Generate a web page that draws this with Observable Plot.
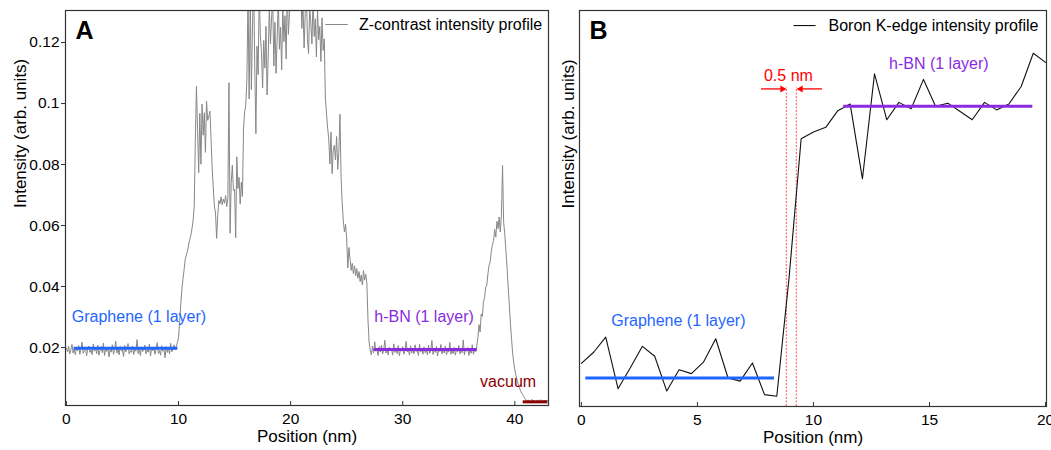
<!DOCTYPE html>
<html><head><meta charset="utf-8">
<script src="https://cdn.jsdelivr.net/npm/d3@7"></script>
<script src="https://cdn.jsdelivr.net/npm/@observablehq/plot@0.6"></script>
<style>
body{margin:0;background:#fff;font-family:"Liberation Sans",Arial,sans-serif;}
#wrap{position:relative;width:1051px;height:450px;overflow:hidden;}
#a{position:absolute;left:0;top:0;}
#b{position:absolute;left:555px;top:0;}
svg{overflow:visible}
</style></head><body><div id="wrap"><div id="a"></div><div id="b"></div></div>
<script>
// ---------- Panel A: Z-contrast intensity profile ----------
const positionStartA = 0;     // nm
const positionStepA = 0.1;    // nm between samples
const zIntensityA = [
.0198,.0186,.0204,.0179,.0193,.0210,.0182,.0196,.0176,.0201,
.0189,.0206,.0178,.0194,.0218,.0181,.0190,.0202,.0173,.0197,
.0205,.0184,.0192,.0177,.0212,.0188,.0199,.0180,.0208,.0175,
.0191,.0203,.0183,.0215,.0174,.0196,.0187,.0200,.0169,.0193,
.0185,.0209,.0178,.0195,.0221,.0182,.0198,.0176,.0204,.0189,
.0192,.0171,.0207,.0186,.0199,.0213,.0179,.0190,.0184,.0205,
.0177,.0194,.0188,.0226,.0180,.0196,.0174,.0202,.0187,.0191,
.0208,.0179,.0193,.0185,.0211,.0172,.0197,.0189,.0200,.0178,
.0195,.0216,.0181,.0190,.0175,.0206,.0188,.0194,.0167,.0203,
.0184,.0198,.0179,.0214,.0186,.0192,.0209,.0193,.0204,.0217,
.0232,.0285,.0340,.0391,.0425,.0456,.0490,.0503,.0517,.0536,
.0554,.0568,.0589,.0617,.0660,.0880,.1056,.0912,.0773,.0968,
.0801,.0998,.0896,.0970,.0840,.1008,.0945,.0958,.0975,.0886,
.0790,.0723,.0664,.0641,.0558,.0636,.0682,.0671,.0694,.0668,
.0687,.0673,.0698,.0662,.0689,.1068,.0575,.0740,.0798,.0715,
.0718,.0560,.0825,.0721,.0758,.0670,.0742,.0695,.0920,.0973,
.0995,.1080,.1360,.1015,.1330,.1046,.1254,.1405,.1120,.0901,
.1188,.1095,.1362,.1224,.1170,.1051,.1207,.1116,.1253,.1028,
.1149,.1318,.1195,.1280,.1352,.1123,.1266,.1099,.1214,.1346,
.1178,.1250,.1110,.1325,.1203,.1288,.1146,.1380,.1227,.1295,
.1365,.1420,.1398,.1452,.1371,.1483,.1410,.1356,.1439,.1392,
.1246,.1330,.1182,.1295,.1378,.1210,.1164,.1312,.1267,.1195,
.1345,.1220,.1278,.1153,.1306,.1209,.1253,.1138,.1281,.1174,
.1212,.1018,.0966,.0920,.0884,.0802,.0906,.0770,.0848,.0863,
.0815,.0892,.0784,.0840,.0965,.0758,.0672,.0615,.0579,.0604,
.0556,.0461,.0528,.0490,.0453,.0476,.0442,.0468,.0435,.0459,
.0427,.0449,.0416,.0438,.0405,.0452,.0421,.0440,.0410,.0290,
.0218,.0192,.0176,.0205,.0183,.0219,.0188,.0196,.0174,.0203,
.0185,.0208,.0179,.0191,.0224,.0182,.0197,.0176,.0201,.0189,
.0196,.0175,.0212,.0184,.0199,.0180,.0207,.0173,.0194,.0188,
.0203,.0178,.0190,.0220,.0186,.0193,.0175,.0206,.0182,.0198,
.0179,.0209,.0187,.0192,.0174,.0211,.0185,.0197,.0178,.0202,
.0183,.0195,.0176,.0208,.0181,.0190,.0223,.0177,.0196,.0184,
.0204,.0172,.0193,.0187,.0210,.0179,.0198,.0182,.0205,.0176,
.0191,.0185,.0217,.0178,.0194,.0180,.0201,.0175,.0197,.0186,
.0207,.0179,.0192,.0183,.0225,.0176,.0195,.0188,.0200,.0174,
.0196,.0181,.0209,.0178,.0193,.0186,.0204,.0232,.0275,.0251,
.0310,.0302,.0351,.0364,.0398,.0405,.0443,.0469,.0482,.0516,
.0538,.0551,.0587,.0562,.0614,.0590,.0628,.0579,.0635,.0797,
.0610,.0573,.0518,.0465,.0402,.0344,.0281,.0230,.0182,.0150,
.0126,.0108,.0092,.0080,.0069,.0059,.0051,.0046,.0039,.0033,
.0029,.0025,.0028,.0022,.0026,.0030,.0024,.0027,.0021,.0025,
.0028,.0023,.0026,.0029,.0022,.0027,.0024,.0028,.0023,.0026,
.0025
];
const xDomainA = [-0.08, 43.0];
const yDomainA = [0.001, 0.1305];
const xTicksA = [0, 10, 20, 30, 40];
const yTicksA = [0.02, 0.04, 0.06, 0.08, 0.1, 0.12];
const yTickLabelsA = ["0.02", "0.04", "0.06", "0.08", "0.1", "0.12"];
const levelNamesA = ["Graphene (1 layer)", "h-BN (1 layer)", "vacuum"];
const levelStartA = [0.64, 27.4, 40.7];
const levelEndA = [9.9, 36.6, 42.9];
const levelValueA = [0.0198, 0.0194, 0.0022];
const levelLabelXA = [6.47, 31.9, 39.4];
const levelLabelYA = [0.0299, 0.0299, 0.0089];
const legendA = {text: "Z-contrast intensity profile", x1: 23.1, x2: 25.1, y: 0.1259, textX: 26.1};

// ---------- Panel B: Boron K-edge intensity profile ----------
const positionB = [0, 0.53, 1.05, 1.58, 2.11, 2.63, 3.16, 3.68, 4.21, 4.74, 5.26, 5.79, 6.32, 6.84, 7.37, 7.89, 8.42, 8.95, 9.47, 10.0,
  10.53, 11.05, 11.58, 12.11, 12.63, 13.16, 13.68, 14.21, 14.74, 15.26, 15.79, 16.32, 16.84, 17.37, 17.89, 18.42, 18.95, 19.47, 20.0];
const boronIntensityB = [10.9, 13.7, 17.5, 4.5, 9.8, 15.2, 12.7, 3.9, 9.3, 8.3, 11.2, 17.1, 7.2, 6.4, 11.0, 3.0, 2.6, 32.6, 67.6, 69.3,
  70.5, 74.7, 76.4, 57.5, 84.0, 72.4, 76.8, 75.2, 82.6, 75.8, 76.6, 74.5, 72.4, 76.8, 74.9, 76.4, 80.8, 89.2, 86.9];
const xDomainB = [-0.08, 20.04];
const yDomainB = [0, 100];
const xTicksB = [0, 5, 10, 15, 20];
const levelNamesB = ["Graphene (1 layer)", "h-BN (1 layer)"];
const levelStartB = [0.17, 11.28];
const levelEndB = [8.3, 19.43];
const levelValueB = [7.2, 75.8];
const levelLabelXB = [4.18, 15.4];
const levelLabelYB = [21.5, 86.5];
const edgeMarkersB = [8.83, 9.26];
const edgeMarkerTopB = 80.6;
const widthLabelB = {text: "0.5 nm", x: 8.92, y: 83.6, arrowY: 80.2, leftFrom: 7.74, leftTo: 8.79, rightFrom: 10.37, rightTo: 9.32};
const legendB = {text: "Boron K-edge intensity profile", x1: 9.14, x2: 10.09, y: 96.2, textX: 10.65};

// ---------- styles ----------
const levelColorsA = ["#1f66ff", "#8a2be2", "#8b0000"];
const levelColorsB = ["#1f66ff", "#8a2be2"];
const font = "Liberation Sans, Arial, Helvetica, sans-serif";

const profileA = zIntensityA.map((v, i) => ({x: positionStartA + i * positionStepA, y: v}));
const levelsA = levelNamesA.map((n, i) => ({name: n, x1: levelStartA[i], x2: levelEndA[i], y: levelValueA[i], lx: levelLabelXA[i], ly: levelLabelYA[i], c: levelColorsA[i]}));
const profileB = positionB.map((x, i) => ({x, y: boronIntensityB[i]}));
const levelsB = levelNamesB.map((n, i) => ({name: n, x1: levelStartB[i], x2: levelEndB[i], y: levelValueB[i], lx: levelLabelXB[i], ly: levelLabelYB[i], c: levelColorsB[i]}));
const arrowTipsB = [
  {x: widthLabelB.leftTo, y: widthLabelB.arrowY, rot: 90, dx: -3},
  {x: widthLabelB.rightTo, y: widthLabelB.arrowY, rot: -90, dx: 3}
];

const plotA = Plot.plot({
  width: 555, height: 450,
  marginLeft: 65, marginRight: 7, marginTop: 10, marginBottom: 45,
  style: {fontFamily: font, fontSize: "15px", color: "#000", background: "#fff", overflow: "visible"},
  x: {domain: xDomainA},
  y: {domain: yDomainA},
  color: {type: "identity"},
  marks: [
    Plot.line(profileA, {x: "x", y: "y", stroke: "#878787", strokeWidth: 1, clip: true}),
    Plot.link(levelsA, {x1: "x1", x2: "x2", y1: "y", y2: "y", stroke: "c", strokeWidth: 3}),
    Plot.text(levelsA, {x: "lx", y: "ly", text: "name", fill: "c", fontSize: 16}),
    Plot.link([legendA], {x1: "x1", x2: "x2", y1: "y", y2: "y", stroke: "#878787", strokeWidth: 1}),
    Plot.text([legendA], {x: "textX", y: "y", text: "text", textAnchor: "start", fontSize: 16, fill: "#000"}),
    Plot.text(["A"], {text: d => d, frameAnchor: "top-left", textAnchor: "start", lineAnchor: "top", dx: 10, dy: 11, fontSize: 25, fontWeight: "bold", fill: "#000"}),
    Plot.axisX(xTicksA, {tickSize: -4, tickPadding: 11, label: null, fontSize: 15.5, stroke: "#333"}),
    Plot.axisY(yTicksA, {tickSize: 4, tickPadding: 2, label: null, tickFormat: (d, i) => yTickLabelsA[i], fontSize: 15.5, stroke: "#333"}),
    Plot.text(["Position (nm)"], {text: d => d, frameAnchor: "bottom", dy: 36, fontSize: 17, fill: "#000"}),
    Plot.text(["Intensity (arb. units)"], {text: d => d, frameAnchor: "left", rotate: -90, dx: -45, fontSize: 17, fill: "#000"}),
    Plot.frame({stroke: "#333", strokeWidth: 1.2})
  ]
});
document.getElementById("a").append(plotA);

const plotB = Plot.plot({
  width: 496, height: 450,
  marginLeft: 24, marginRight: 5, marginTop: 10, marginBottom: 44,
  style: {fontFamily: font, fontSize: "15px", color: "#000", background: "#fff", overflow: "visible"},
  x: {domain: xDomainB},
  y: {domain: yDomainB, axis: null},
  color: {type: "identity"},
  marks: [
    Plot.ruleX(edgeMarkersB, {x: d => d, y1: yDomainB[0], y2: edgeMarkerTopB, stroke: "#ff2020", strokeWidth: 1, strokeDasharray: "2,1.5", strokeOpacity: 0.8}),
    Plot.line(profileB, {x: "x", y: "y", stroke: "#111", strokeWidth: 1.1}),
    Plot.link(levelsB, {x1: "x1", x2: "x2", y1: "y", y2: "y", stroke: "c", strokeWidth: 3}),
    Plot.text(levelsB, {x: "lx", y: "ly", text: "name", fill: "c", fontSize: 16}),
    Plot.link([widthLabelB], {x1: "leftFrom", x2: "leftTo", y1: "arrowY", y2: "arrowY", stroke: "#ff0000", strokeWidth: 1.3}),
    Plot.link([widthLabelB], {x1: "rightFrom", x2: "rightTo", y1: "arrowY", y2: "arrowY", stroke: "#ff0000", strokeWidth: 1.3}),
    Plot.dot(arrowTipsB.slice(0, 1), {x: "x", y: "y", symbol: "triangle", rotate: 90, r: 2.6, fill: "#ff0000", dx: -3}),
    Plot.dot(arrowTipsB.slice(1), {x: "x", y: "y", symbol: "triangle", rotate: -90, r: 2.6, fill: "#ff0000", dx: 3}),
    Plot.text([widthLabelB], {x: "x", y: "y", text: "text", fill: "#ff0000", fontSize: 16}),
    Plot.link([legendB], {x1: "x1", x2: "x2", y1: "y", y2: "y", stroke: "#111", strokeWidth: 1.1}),
    Plot.text([legendB], {x: "textX", y: "y", text: "text", textAnchor: "start", fontSize: 16, fill: "#000"}),
    Plot.text(["B"], {text: d => d, frameAnchor: "top-left", textAnchor: "start", lineAnchor: "top", dx: 10, dy: 11, fontSize: 25, fontWeight: "bold", fill: "#000"}),
    Plot.axisX(xTicksB, {tickSize: -4, tickPadding: 11, label: null, fontSize: 15.5, stroke: "#333"}),
    Plot.text(["Position (nm)"], {text: d => d, frameAnchor: "bottom", dy: 36, fontSize: 17, fill: "#000"}),
    Plot.text(["Intensity (arb. units)"], {text: d => d, frameAnchor: "left", rotate: -90, dx: -11, fontSize: 17, fill: "#000"}),
    Plot.frame({stroke: "#333", strokeWidth: 1.2})
  ]
});
document.getElementById("b").append(plotB);
</script></body></html>
